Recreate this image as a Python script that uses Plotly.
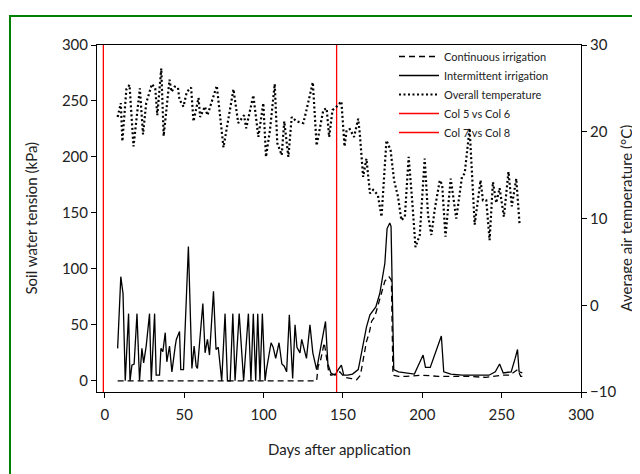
import plotly.graph_objects as go

# ---------------- data ----------------
int_days = [8, 10, 11.4, 12.8, 14.9, 15.8, 17, 18.4, 20.2, 21.8, 23.3, 24.4, 26, 28.1, 29.2, 31.3, 32.3, 34.4,
            35.3, 36.5, 38, 39, 40.7, 42.2, 44.3, 45, 47, 47.8, 49.5, 52.6, 54.8, 56.2, 57.5, 58.3, 61.7, 63.1,
            64.6, 65.9, 68.4, 70, 71.4, 72.6, 73.6, 75.7, 77.2, 78.9, 80.6, 82, 84.6, 87.4, 90.4, 92, 93.5, 95,
            96.3, 97.7, 99.2, 100.9, 101.8, 104.7, 106, 107.6, 109.7, 111.5, 113, 114.5, 116.2, 118.3, 119.8,
            121, 122.9, 124, 127, 129.2, 131, 133.4, 134.8, 136, 139, 140.5, 142.4, 145, 147, 149, 150.5, 153,
            156, 159.6, 160.6, 162.7, 164.8, 167, 170.7, 173.2, 176.4, 177.8, 179.5, 180.3, 182, 185, 190, 195,
            200.5, 202, 205, 212, 213.5, 218, 225, 235, 242, 246, 248.7, 251, 256, 258.5, 260, 261, 263]
int_vals = [29, 93, 78, 0, 60, 0, 14, 15, 60, 0, 29, 16, 31, 60, 0, 60, 5, 5,
            29, 26, 43, 17, 31, 8, 31, 37, 44, 10, 10, 120, 11, 31, 13, 11, 69, 25,
            37, 23, 80, 28, 30, 10, 0, 60, 0, 0, 60, 0, 60, 0, 60, 0, 60, 0,
            60, 0, 60, 0, 10, 34, 30, 20, 34, 15, 13, 8, 59, 2, 50,
            30, 25, 37, 20, 50, 25, 10, 22, 30, 53, 15, 7, 5, 10, 14, 5, 5,
            6, 10, 17, 31, 48, 59, 66, 78, 105, 136, 141, 138, 10, 8, 7, 6,
            23, 12, 12, 40, 8, 6, 5, 5, 5, 8, 15, 7, 8, 20, 28, 8, 7]

cont_days = [8, 133.4, 134.4, 136, 138.2, 139.5, 141, 142.4, 145, 148, 151, 155.4, 158.6, 161, 162.7, 164.8,
             166.6, 168, 170, 173.2, 176.4, 179, 180.5, 181.5, 185, 190, 200, 210, 220, 230, 240, 250, 255,
             260, 262, 263]
cont_vals = [0, 0, 13, 19, 34, 20, 8, 5, 6, 8, 3, 2, 1, 5, 19, 35,
             43, 53, 57, 74, 89, 93, 90, 5, 4, 4, 5, 4, 4, 4, 3, 5, 5,
             10, 4, 4]

temp_days = [8, 10, 11, 13.5, 15.5, 18, 22, 24, 26, 29.6, 31.7, 33, 35.5, 37, 40.7, 42, 44, 46, 47, 49.5, 51.6,
             54.3, 55.8, 59, 60, 63, 64.6, 66.3, 70.5, 74.7, 81, 84, 87.7, 89, 93.5, 96.7, 99.8, 101.5, 104, 107,
             108.6, 111.4, 113, 115.6, 117.7, 120.8, 125, 127, 131, 133.4, 137.6, 139.7, 141.3, 143.4, 146, 149,
             151, 152.3, 154.3, 157, 159.6, 160.6, 162.7, 164.8, 167, 169, 172, 174.3, 177.4, 180, 182.2, 184.7,
             186.8, 189, 191.4, 193.6, 195.7, 198.4, 201.5, 203.6, 205.7, 207.8, 211, 212.5, 214.6, 217.9, 221.4,
             225, 226.7, 229.8, 233, 236.7, 238.2, 240.3, 242.4, 244.5, 246.6, 248.7, 251.4, 254.3, 256.4, 259.2,
             261.3]
temp_vals = [21.7, 23.3, 18.9, 24.9, 25.4, 18.3, 25, 19.7, 23.3, 25.5, 25, 21.9, 27.3, 19.5, 26, 24.6, 25.2, 25.1,
             23.7, 22.9, 24.6, 25.1, 21.2, 23.9, 21.7, 22.9, 21.9, 22.9, 25.3, 18.2, 24.9, 21, 21.9, 20.4, 24.2,
             19.4, 23.3, 17.1, 20.2, 25.5, 18.7, 17.3, 21.2, 17.1, 21.7, 21.2, 21, 22.5, 25.7, 18.4, 22.5, 22.7,
             19.4, 22.5, 22.9, 23.5, 18.3, 20.2, 20.3, 19.4, 21.5, 19.8, 14.8, 16.9, 12.9, 13.3, 12.7, 10.2, 19,
             17.9, 14.4, 12.5, 9.8, 10.2, 17.1, 12.1, 6.7, 8.1, 16.9, 10.4, 8.1, 11, 14.4, 13.9, 7.9, 14.6, 10,
             14.8, 15.2, 20.4, 9.3, 14.4, 12.1, 12.1, 7.5, 14.2, 11.8, 13.5, 10.2, 15.4, 11.4, 14.6, 9.3]

line1_x = [-1, -1]
line2_x = [146, 146]
vline_y = [-10, 300]

x_ticks = [0, 50, 100, 150, 200, 250, 300]
y_ticks = [0, 50, 100, 150, 200, 250, 300]
y2_ticks = [-10, 0, 10, 20, 30]

FONT = "Lato"
OFF = 8  # page body margin offset
W, H = 632, 466
L, T = 97 - OFF, 45 - OFF
PW, PH = 484, 347
R, B = W - L - PW, H - T - PH


def px(xp):  # page x -> paper
    return (xp - OFF - L) / PW


def py(yp):  # page y -> paper
    return 1 - (yp - OFF - T) / PH


fig = go.Figure()
fig.add_trace(go.Scatter(x=cont_days, y=cont_vals, mode="lines", name="Continuous irrigation",
                         line=dict(color="black", width=1.3, dash="6px,4px")))
fig.add_trace(go.Scatter(x=int_days, y=int_vals, mode="lines", name="Intermittent irrigation",
                         line=dict(color="black", width=1.3)))
fig.add_trace(go.Scatter(x=temp_days, y=temp_vals, mode="lines", name="Overall temperature", yaxis="y2",
                         line=dict(color="black", width=2.2, dash="2px,2.5px")))
fig.add_trace(go.Scatter(x=line1_x, y=vline_y, mode="lines", name="Col 5 vs Col 6",
                         line=dict(color="red", width=1.3)))
fig.add_trace(go.Scatter(x=line2_x, y=vline_y, mode="lines", name="Col 7 vs Col 8",
                         line=dict(color="red", width=1.3)))

axis_font = dict(family=FONT, size=15, color="#222")
title_font = dict(family=FONT, size=15, color="#222")
fig.update_layout(
    width=W, height=H,
    margin=dict(l=L, r=R, t=T, b=B, autoexpand=False),
    paper_bgcolor="white", plot_bgcolor="white",
    font=dict(family=FONT, color="#222"),
    showlegend=True,
    legend=dict(x=px(394), y=py(42), xanchor="left", yanchor="top", bgcolor="rgba(0,0,0,0)",
                font=dict(family=FONT, size=11, color="#222"), tracegroupgap=0,
                itemwidth=40),
    xaxis=dict(range=[-5, 300], tickvals=x_ticks, showgrid=False, zeroline=False, automargin=False,
               showline=True, linecolor="black", linewidth=1, mirror=True,
               ticks="outside", ticklen=5, tickcolor="black", tickfont=axis_font,
               ticklabelstandoff=4),
    yaxis=dict(range=[-10, 300], tickvals=y_ticks, showgrid=False, zeroline=False, automargin=False,
               showline=True, linecolor="black", linewidth=1,
               ticks="outside", ticklen=5, tickcolor="black", tickfont=axis_font),
    yaxis2=dict(range=[-10, 30], tickvals=y2_ticks, overlaying="y", side="right", showgrid=False,
                zeroline=False, showline=True, linecolor="black", linewidth=1, automargin=False,
                ticks="outside", ticklen=5, tickcolor="black", tickfont=axis_font),
    annotations=[
        dict(text="Days after application", xref="paper", yref="paper", x=0.5, y=py(449),
             xanchor="center", yanchor="middle", showarrow=False, font=title_font),
        dict(text="Soil water tension (kPa)", xref="paper", yref="paper", x=px(30), y=0.5,
             xanchor="center", yanchor="middle", textangle=-90, showarrow=False, font=title_font),
        dict(text="Average air temperature (°C)", xref="paper", yref="paper", x=px(625), y=0.5,
             xanchor="center", yanchor="middle", textangle=-90, showarrow=False, font=title_font),
    ],
    shapes=[dict(type="rect", xref="paper", yref="paper",
                 x0=px(10), x1=px(680), y0=py(520), y1=py(16),
                 line=dict(color="green", width=2), fillcolor="rgba(0,0,0,0)", layer="below")],
)

fig.write_html("out.html")
